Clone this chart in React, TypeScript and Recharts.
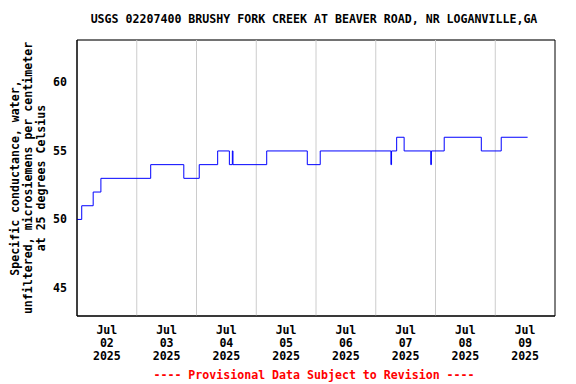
import React from "react";
import { LineChart, Line, XAxis, YAxis, CartesianGrid, ReferenceLine, ReferenceArea } from "recharts";

// hours since Jul 02 2025 00:00 at which the value changes (step data)
const hours = [0, 1.9, 6.5, 9.6, 29.6, 42.9, 49.1, 56.5, 61.2, 62.4, 62.65, 76.2, 92.5, 97.7, 126.1, 126.35, 128.4, 131.4, 142.1, 142.35, 147.5, 162.4, 170.4, 181];
const values = [50, 51, 52, 53, 54, 53, 54, 55, 54, 55, 54, 55, 54, 55, 54, 55, 56, 55, 54, 55, 56, 55, 56, 56];

const dayLabels = ["02", "03", "04", "05", "06", "07", "08", "09"];
const labelTicks = [12, 36, 60, 84, 108, 132, 156, 180];
const midnightLines = [24, 48, 72, 96, 120, 144, 168];
const yTicks = [45, 50, 55, 60];
const xDomain = [0, 192];
const yDomain = [42.95, 63.1];

const data = hours.map((h, i) => ({ h, v: values[i] }));

const FONT = "'DejaVu Sans Mono', monospace";

const XTick = (props: any) => {
  const { x, y, payload } = props;
  const idx = labelTicks.indexOf(payload.value);
  return (
    <text x={x} y={y} textAnchor="middle" fontFamily={FONT} fontWeight="bold" fontSize={11.6} fill="#000">
      <tspan x={x} dy={10}>Jul</tspan>
      <tspan x={x} dy={13}>{dayLabels[idx]}</tspan>
      <tspan x={x} dy={13}>2025</tspan>
    </text>
  );
};

const YTick = (props: any) => {
  const { x, y, payload } = props;
  return (
    <text x={x - 2} y={y + 4} textAnchor="end" fontFamily={FONT} fontWeight="bold" fontSize={11.6} fill="#000">
      {payload.value}
    </text>
  );
};

export default function App() {
  return (
    <div style={{ position: "absolute", left: 0, top: 0, width: 576, height: 384, background: "#fff" }}>
      <LineChart width={576} height={384} data={data} margin={{ top: 40, right: 21, bottom: 0, left: 0 }}>
        <CartesianGrid vertical={false} stroke="#cccccc" />
        {midnightLines.map((m) => (
          <ReferenceLine key={m} x={m} xAxisId="b" yAxisId="l" stroke="#cccccc" />
        ))}
        <XAxis
          xAxisId="b"
          dataKey="h"
          type="number"
          domain={xDomain}
          ticks={labelTicks}
          tick={<XTick />}
          tickLine={false}
          axisLine={{ stroke: "#000" }}
          height={68}
          interval={0}
        />
        <YAxis
          yAxisId="l"
          type="number"
          domain={yDomain}
          ticks={yTicks}
          tick={<YTick />}
          tickLine={false}
          axisLine={{ stroke: "#000" }}
          width={77}
          allowDataOverflow
        />
        <ReferenceArea
          xAxisId="b"
          yAxisId="l"
          x1={xDomain[0]}
          x2={xDomain[1]}
          y1={yDomain[0]}
          y2={yDomain[1]}
          fill="none"
          fillOpacity={0}
          stroke="#000"
          strokeWidth={1}
          ifOverflow="visible"
        />
        <Line
          xAxisId="b"
          yAxisId="l"
          type="stepAfter"
          dataKey="v"
          stroke="#0000ff"
          strokeWidth={1}
          dot={false}
          isAnimationActive={false}
        />
      </LineChart>
      <svg width={576} height={384} style={{ position: "absolute", left: 0, top: 0, pointerEvents: "none" }}>
        <text x={314} y={23} textAnchor="middle" fontFamily={FONT} fontWeight="bold" fontSize={11.6} fill="#000">
          USGS 02207400 BRUSHY FORK CREEK AT BEAVER ROAD, NR LOGANVILLE,GA
        </text>
        <g transform="translate(0,178) rotate(-90)" fontFamily={FONT} fontWeight="bold" fontSize={11.6} fill="#000">
          <text x={0} y={19} textAnchor="middle">Specific conductance, water,</text>
          <text x={0} y={32} textAnchor="middle">unfiltered, microsiemens per centimeter</text>
          <text x={0} y={45} textAnchor="middle">at 25 degrees Celsius</text>
        </g>
        <text x={314} y={379} textAnchor="middle" fontFamily={FONT} fontWeight="bold" fontSize={11.6} fill="#ff0000">
          ---- Provisional Data Subject to Revision ----
        </text>
      </svg>
    </div>
  );
}
